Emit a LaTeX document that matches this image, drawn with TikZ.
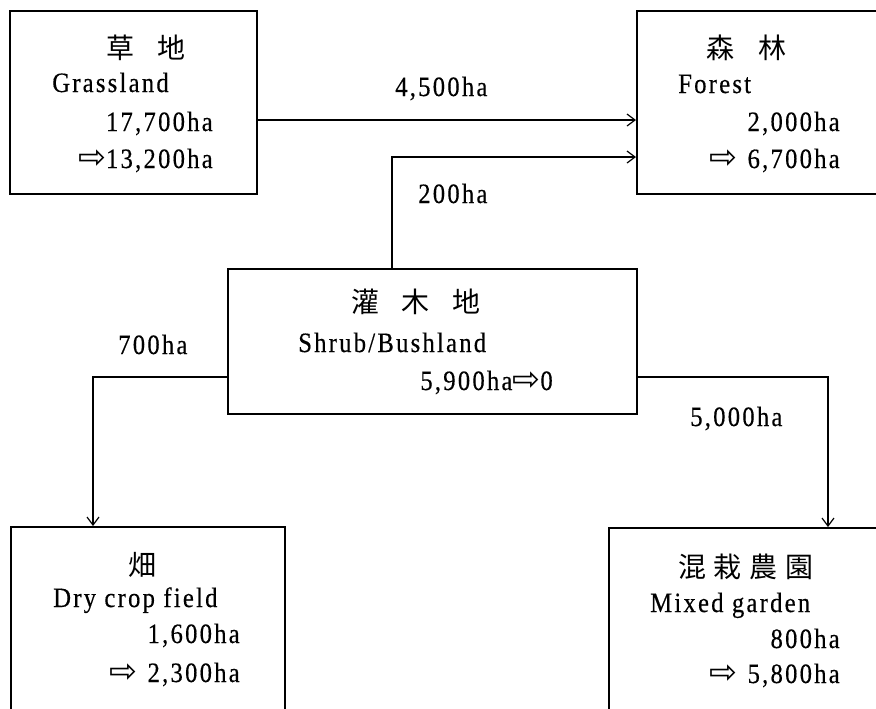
\documentclass[tikz,border=0pt]{standalone}
\usepackage{fontspec}
\setmainfont{Liberation Serif}[LetterSpace=8, FakeStretch=0.88, FakeBold=0.4]
\newfontfamily\cjk{Noto Sans CJK JP}
\newfontfamily\sym{DejaVu Sans}
\usetikzlibrary{arrows.meta}
\newcommand{\ra}{{\sym\fontsize{25}{25}\selectfont ⇨}}
\begin{document}
\begin{tikzpicture}[x=0.75pt,y=-0.75pt,
  box/.style={draw, line width=1.2pt, rectangle, anchor=north west, inner sep=0pt},
  arr/.style={draw, line width=0.9pt, -{Straight Barb[length=6pt,width=9pt]}},
  lat/.style={inner sep=0pt, font=\fontsize{21}{24}\selectfont},
  kj/.style={inner sep=0pt, font=\fontsize{21}{24}\selectfont\cjk},
  lw/.style={lat, anchor=base west},
  le/.style={lat, anchor=base east}]
\useasboundingbox (0,0) rectangle (876,708);
\clip (0,0) rectangle (876,708);
\fill[white] (0,0) rectangle (876,708);
% boxes
\node[box, minimum width=185.25pt, minimum height=137.25pt] (grass) at (9,10) {};
\node[box, minimum width=190.5pt, minimum height=137.25pt] (forest) at (636,10) {};
\node[box, minimum width=306.75pt, minimum height=108.75pt] (shrub) at (227,268) {};
\node[box, minimum width=205.5pt, minimum height=145.5pt] (dry) at (10,526) {};
\node[box, minimum width=211.5pt, minimum height=144.75pt] (mixed) at (608,527) {};
% connector bends
\coordinate (g1) at (256,120);
\coordinate (s1) at (392,157);
\coordinate (s2) at (93,377);
\coordinate (s3) at (828,377);
\draw[arr] (g1 -| grass.east) -- (g1 -| forest.west);
\draw[arr] (s1 |- shrub.north) -- (s1) -- (s1 -| forest.west);
\draw[arr] (s2 -| shrub.west) -- (s2) -- (s2 |- dry.north);
\draw[arr] (s3 -| shrub.east) -- (s3) -- (s3 |- mixed.north);
% grassland text
\node[kj] (gk) at (146,48) {草\hspace{17pt}地};
\node[lw] (ge1) at (52,92) {Grassland};
\node[le] (ge2) at (213,131) {17,700ha};
\node[le] (ge3) at (213,168) {\ra13,200ha};
% forest text
\node[kj] (fk) at (746,48) {森\hspace{18pt}林};
\node[lw] (fe1) at (678,93) {Forest};
\node[le] (fe2) at (840,131) {2,000ha};
\node[le] (fe3) at (840,168) {\ra\hspace{8pt}6,700ha};
% shrub text
\node[kj] (sk) at (416,302) {灌\hspace{17pt}木\hspace{17pt}地};
\node[lw] (se1) at (298,352) {Shrub/Bushland};
\node[le] (se2) at (553,390) {5,900ha\ra0};
% dry crop text
\node[kj] (dk) at (142,565) {畑};
\node[lw] (de1) at (53,607) {Dry crop field};
\node[le] (de2) at (240,643) {1,600ha};
\node[le] (de3) at (240,682) {\ra\hspace{8pt}2,300ha};
% mixed garden text
\node[kj] (mk) at (746,567) {混\hspace{6pt}栽\hspace{6pt}農\hspace{6pt}園};
\node[lw] (me1) at (650,612) {Mixed garden};
\node[le] (me2) at (840,648) {800ha};
\node[le] (me3) at (840,683) {\ra\hspace{8pt}5,800ha};
% connector labels
\node[lw] (l1) at (395,96) {4,500ha};
\node[lw] (l2) at (418,203) {200ha};
\node[lw] (l3) at (118,354) {700ha};
\node[lw] (l4) at (690,426) {5,000ha};
\end{tikzpicture}
\end{document}
